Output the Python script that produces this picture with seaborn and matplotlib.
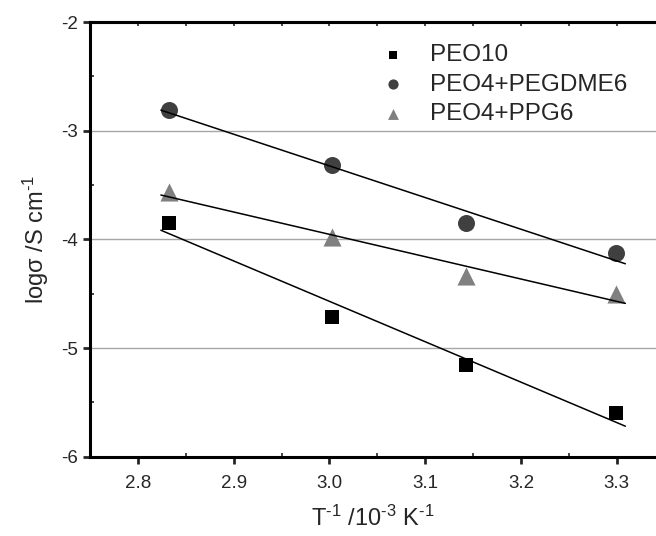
import matplotlib
matplotlib.use("Agg")
import matplotlib.pyplot as plt
import numpy as np
import pandas as pd
import seaborn as sns

# inverse temperature, 10^-3 K^-1 (80, 60, 45, 30 C)
inv_temp = [2.833, 3.003, 3.143, 3.299]

series_names = ["PEO10", "PEO4+PEGDME6", "PEO4+PPG6"]
peo10 = [-3.85, -4.71, -5.155, -5.60]
pegdme6 = [-2.81, -3.32, -3.846, -4.13]
ppg6 = [-3.567, -3.98, -4.34, -4.50]

markers = ["s", "o", "^"]
colors = ["#000000", "#404040", "#808080"]
sizes = [115, 150, 170]


def setup_style():
    sns.set_theme(style="ticks")
    plt.rcParams["font.family"] = ["Liberation Sans", "DejaVu Sans"]
    plt.rcParams["mathtext.fontset"] = "custom"
    plt.rcParams["mathtext.rm"] = "Liberation Sans"
    plt.rcParams["mathtext.default"] = "regular"
    plt.rcParams["axes.unicode_minus"] = False


def main():
    setup_style()
    fig = plt.figure(figsize=(6.56, 5.36), dpi=100)
    ax = fig.add_axes([90 / 656, 79.3 / 536, 566 / 656, 434.7 / 536])

    for y in [-3, -4, -5]:
        ax.axhline(y, color="#a6a6a6", linewidth=1.0, zorder=0)

    data = [peo10, pegdme6, ppg6]
    for name, vals, m, c, s in zip(series_names, data, markers, colors, sizes):
        df = pd.DataFrame({"x": inv_temp, "y": vals})
        sns.scatterplot(data=df, x="x", y="y", marker=m, color=c, s=s,
                        linewidth=0, ax=ax, label=name, zorder=3)
        slope, icept = np.polyfit(inv_temp, vals, 1)
        xs = np.array([min(inv_temp) - 0.009, max(inv_temp) + 0.01])
        ax.plot(xs, slope * xs + icept, color="black", linewidth=1.1, zorder=4)

    ax.set_xlim(2.75, 3.341)
    ax.set_ylim(-6, -2)
    ax.set_xticks([2.8, 2.9, 3.0, 3.1, 3.2, 3.3])
    ax.set_xticklabels(["2.8", "2.9", "3.0", "3.1", "3.2", "3.3"])
    ax.set_yticks([-6, -5, -4, -3, -2])
    ax.set_yticklabels(["-6", "-5", "-4", "-3", "-2"])
    ax.set_xticks([2.75, 2.85, 2.95, 3.05, 3.15, 3.25], minor=True)
    ax.set_yticks([-5.5, -4.5, -3.5, -2.5], minor=True)
    ax.tick_params(which="major", direction="out", length=5, width=2,
                   labelsize=13.5, pad=4)
    ax.tick_params(axis="x", which="major", pad=8)
    ax.tick_params(which="minor", direction="in", length=3, width=1.2)

    for side in ["left", "bottom", "top"]:
        ax.spines[side].set_linewidth(2.2)
        ax.spines[side].set_color("black")
    ax.spines["right"].set_visible(False)

    top = ax.secondary_xaxis("top")
    top.set_xticks([2.8, 2.9, 3.0, 3.1, 3.2, 3.3])
    top.set_xticks([2.75, 2.85, 2.95, 3.05, 3.15, 3.25], minor=True)
    top.tick_params(which="both", direction="in", length=3, width=1.2,
                    labeltop=False)
    top.spines["top"].set_linewidth(2.2)

    ax.set_xlabel(r"T$^{\text{-1}}$ /10$^{\text{-3}}$ K$^{\text{-1}}$",
                  fontsize=17, labelpad=10)
    ax.set_ylabel(r"logσ /S cm$^{\text{-1}}$", fontsize=17, labelpad=7)

    ax.legend(loc="upper left", bbox_to_anchor=(0.476, 0.999), frameon=False,
              fontsize=17.5, markerscale=0.6, handlelength=1.0,
              handletextpad=1.0, labelspacing=0.3, borderpad=0.4)

    fig.savefig("out.png", dpi=100)
    plt.close(fig)


if __name__ == "__main__":
    main()
